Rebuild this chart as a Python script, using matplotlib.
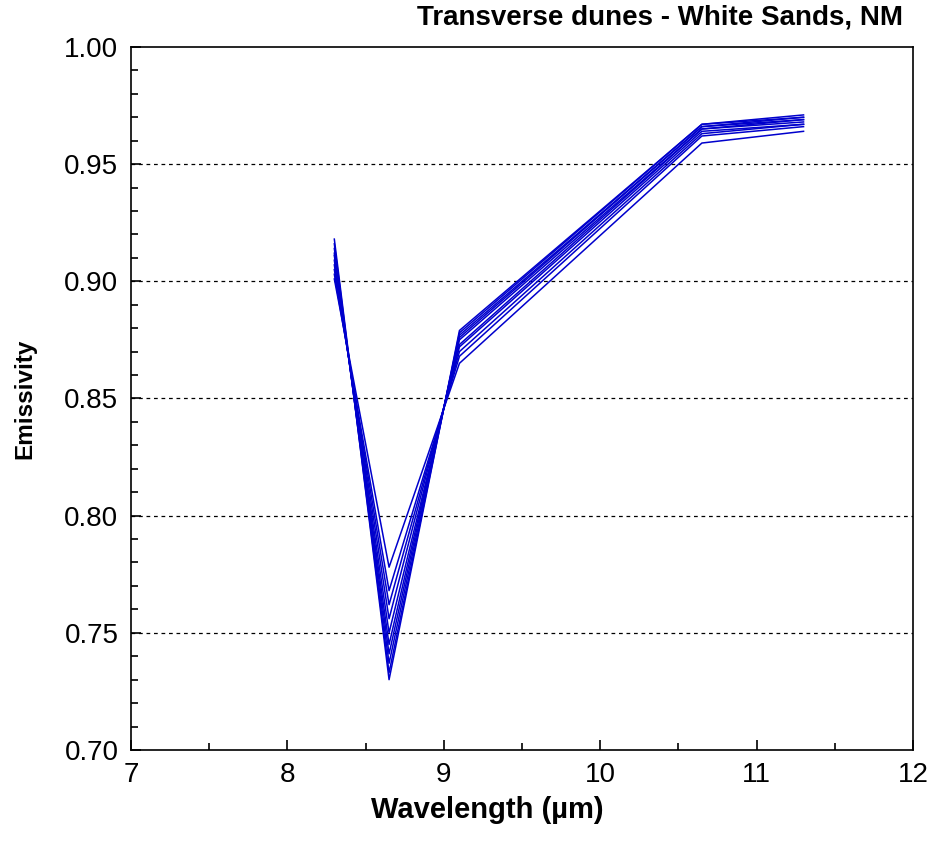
import matplotlib
matplotlib.use("Agg")
import matplotlib.pyplot as plt
from matplotlib.ticker import MultipleLocator

plt.rcParams['font.family'] = ['Liberation Sans', 'DejaVu Sans']

wavelengths = [8.3, 8.65, 9.1, 10.65, 11.3]
s1 = [0.918, 0.730, 0.879, 0.967, 0.971]
s2 = [0.916, 0.733, 0.878, 0.967, 0.970]
s3 = [0.914, 0.737, 0.877, 0.966, 0.970]
s4 = [0.912, 0.741, 0.876, 0.966, 0.969]
s5 = [0.911, 0.745, 0.875, 0.965, 0.969]
s6 = [0.909, 0.750, 0.873, 0.965, 0.968]
s7 = [0.907, 0.756, 0.872, 0.964, 0.967]
s8 = [0.905, 0.762, 0.870, 0.963, 0.967]
s9 = [0.903, 0.768, 0.868, 0.962, 0.966]
s10 = [0.901, 0.778, 0.865, 0.959, 0.964]
series = [s1, s2, s3, s4, s5, s6, s7, s8, s9, s10]

x_ticks = [7, 8, 9, 10, 11, 12]
y_ticks = [0.70, 0.75, 0.80, 0.85, 0.90, 0.95, 1.00]
grid_levels = [0.75, 0.80, 0.85, 0.90, 0.95]

fig = plt.figure(figsize=(9.35, 8.57), dpi=100)
ax = fig.add_axes([0.1401, 0.1249, 0.8364, 0.8203])

for s in series:
    ax.plot(wavelengths, s, color='#0000CC', lw=1.1)

for g in grid_levels:
    ax.axhline(g, color='black', lw=0.9, ls=(0, (3, 3)), zorder=0)

ax.set_xlim(7, 12)
ax.set_ylim(0.70, 1.00)
ax.set_xticks(x_ticks)
ax.set_xticklabels([str(v) for v in x_ticks])
ax.set_yticks(y_ticks)
ax.set_yticklabels([f"{v:.2f}" for v in y_ticks])
ax.xaxis.set_minor_locator(MultipleLocator(0.5))
ax.yaxis.set_minor_locator(MultipleLocator(0.01))
ax.tick_params(which='both', direction='in', top=False, right=False, labelsize=20, width=1.2, colors='black')
ax.tick_params(which='major', length=7, pad=9)
ax.tick_params(which='minor', length=5)
for sp in ax.spines.values():
    sp.set_linewidth(1.2)

ax.set_xlabel('Wavelength (µm)', fontsize=21, fontweight='bold')
ax.xaxis.set_label_coords(0.455, -0.065)
ax.set_ylabel('Emissivity', fontsize=17.5, fontweight='bold', labelpad=20)
fig.text(0.966, 0.979, 'Transverse dunes - White Sands, NM', ha='right', va='center',
         fontsize=20, fontweight='bold')

fig.savefig('out.png', dpi=100)
